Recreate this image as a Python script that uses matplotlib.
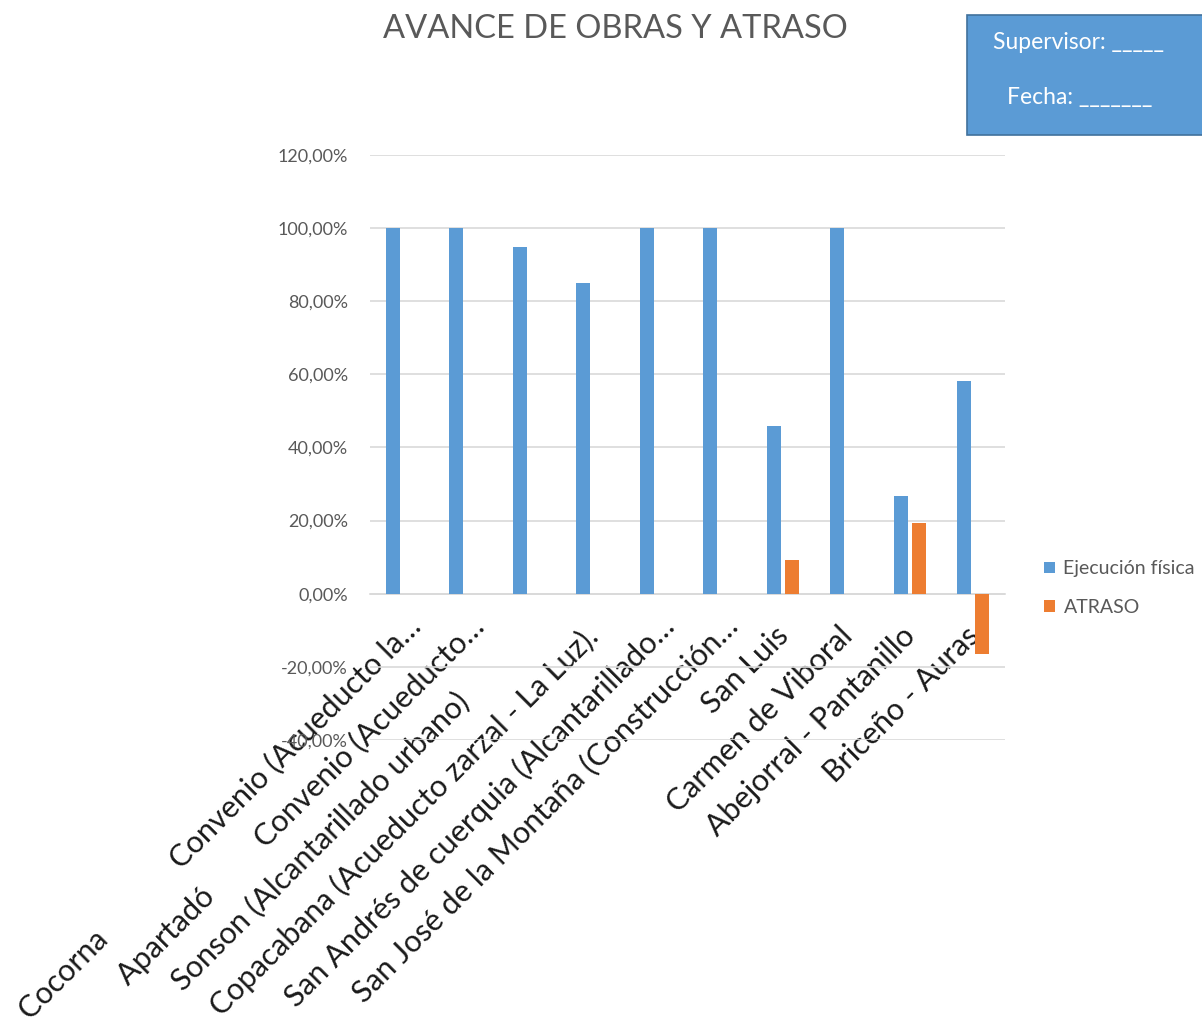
import matplotlib.pyplot as plt
import matplotlib.patches as mpatches
from matplotlib.transforms import ScaledTranslation
import numpy as np

plt.rcParams['font.family'] = ['Lato', 'DejaVu Sans']

# ---- data ----
categorias = [
    "Cocorna             Convenio (Acueducto la\u2026",
    "Apartadó         Convenio (Acueducto\u2026",
    "Sonson (Alcantarillado urbano)            ",
    "Copacabana (Acueducto zarzal - La Luz).",
    "San Andrés de cuerquia (Alcantarillado\u2026",
    "San José de la Montaña (Construcción\u2026",
    "San Luis",
    "Carmen de Viboral",
    "Abejorral - Pantanillo",
    "Briceño - Auras",
]
ejecucion = [1.00, 1.00, 0.948, 0.851, 1.00, 1.00, 0.458, 1.00, 0.266, 0.582]
atraso    = [0.0, 0.0, 0.0, 0.0, 0.0, 0.0, 0.091, 0.0, 0.193, -0.164]
yticks    = [-0.4, -0.2, 0.0, 0.2, 0.4, 0.6, 0.8, 1.0, 1.2]

BLUE   = "#5B9BD5"
ORANGE = "#ED7D31"
GRAY   = "#595959"
GRID   = "#D9D9D9"

fig = plt.figure(figsize=(12.02, 10.28), dpi=100)
ax = fig.add_axes([0.3078, 0.2802, 0.8361 - 0.3078, 0.8492 - 0.2802])

x = np.arange(len(categorias))
w = 0.22
ax.bar(x - 0.142, ejecucion, width=w, color=BLUE, label="Ejecución física", zorder=3)
ax.bar(x + 0.142, atraso, width=w, color=ORANGE, label="ATRASO", zorder=3)

ax.set_xlim(-0.5, len(categorias) - 0.5)
ax.set_ylim(-0.4, 1.2)
ax.set_yticks(yticks)
ax.set_yticklabels([f"{v*100:.2f}%".replace(".", ",") for v in yticks],
                   color=GRAY, fontsize=13)
ax.yaxis.grid(True, color=GRID, linewidth=1.2, zorder=0)
ax.set_axisbelow(True)

for side in ["top", "right", "left"]:
    ax.spines[side].set_visible(False)
ax.spines["bottom"].set_position(("data", 0))
ax.spines["bottom"].set_color(GRID)
ax.spines["bottom"].set_linewidth(1.2)
ax.tick_params(axis="both", length=0)
ax.tick_params(axis="y", pad=16)
ax.tick_params(axis="x", pad=27)

ax.set_xticks(x)
ax.set_xticklabels(categorias, rotation=45, ha="right", va="center",
                   rotation_mode="anchor", fontsize=22, color="#1a1a1a")
# etiquetas truncadas (con "…") quedan un poco mas arriba, como en Excel
for lbl in ax.get_xticklabels():
    if lbl.get_text().endswith("\u2026"):
        shift = ScaledTranslation(10 / 72, 7 / 72, fig.dpi_scale_trans)
    else:
        shift = ScaledTranslation(1 / 72, 0, fig.dpi_scale_trans)
    lbl.set_transform(lbl.get_transform() + shift)

fig.text(0.5116, 0.9718, "AVANCE DE OBRAS Y ATRASO", ha="center", va="center",
         fontsize=23.5, color=GRAY)

fig.legend(loc="center left", bbox_to_anchor=(0.854, 0.428), frameon=False,
           fontsize=14, labelcolor=GRAY, handlelength=0.55, handleheight=0.55,
           handletextpad=0.45, labelspacing=1.1)

# caja supervisor / fecha
box = mpatches.Rectangle((0.8045, 0.8687), 0.2, 0.1167, transform=fig.transFigure,
                         facecolor=BLUE, edgecolor="#41719C", linewidth=1.2)
fig.patches.append(box)
fig.text(0.826, 0.959, "Supervisor: _____", ha="left", va="center",
         fontsize=16.5, color="white")
fig.text(0.838, 0.905, "Fecha: _______", ha="left", va="center",
         fontsize=16.5, color="white")

fig.savefig("out.png", dpi=100)
